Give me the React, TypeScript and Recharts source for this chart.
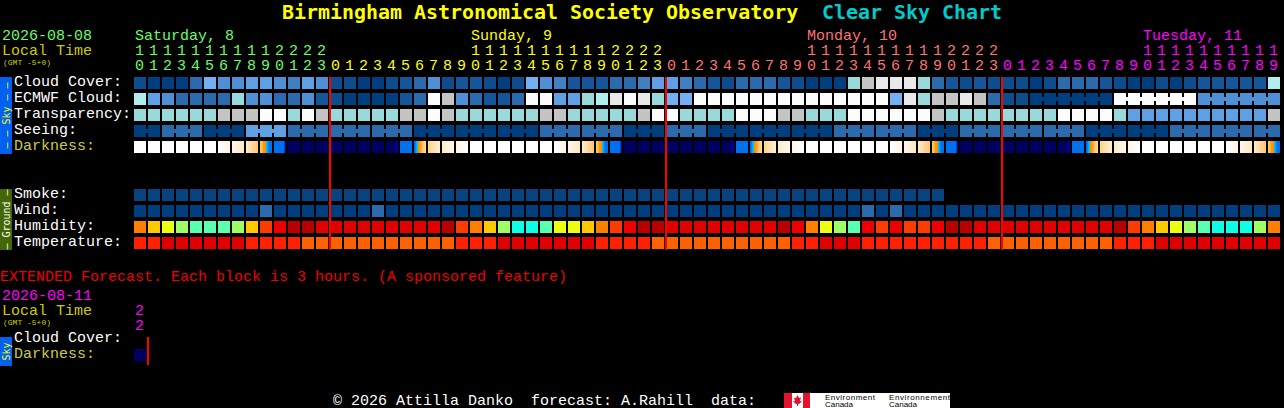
import React from "react";
import { ScatterChart, Scatter, XAxis, YAxis } from "recharts";

/* ------------------------------------------------------------------ */
/*  Data                                                               */
/* ------------------------------------------------------------------ */

const HOURS = [
  10, 11, 12, 13, 14, 15, 16, 17, 18, 19, 20, 21, 22, 23,
  0, 1, 2, 3, 4, 5, 6, 7, 8, 9, 10, 11, 12, 13, 14, 15, 16, 17, 18, 19, 20, 21, 22, 23,
  0, 1, 2, 3, 4, 5, 6, 7, 8, 9, 10, 11, 12, 13, 14, 15, 16, 17, 18, 19, 20, 21, 22, 23,
  0, 1, 2, 3, 4, 5, 6, 7, 8, 9, 10, 11, 12, 13, 14, 15, 16, 17, 18, 19,
];

const DAY_LABELS = ["Saturday, 8", "Sunday, 9", "Monday, 10", "Tuesday, 11"];
const DAY_LABEL_COLUMNS = [0, 24, 48, 72];
const DAY_FIRST_COLUMNS = [0, 14, 38, 62];
const MIDNIGHT_COLUMNS = [14, 38, 62];

const SKY_LABELS = ["Cloud Cover:", "ECMWF Cloud:", "Transparency:", "Seeing:", "Darkness:"];
const GROUND_LABELS = ["Smoke:", "Wind:", "Humidity:", "Temperature:"];

const CLOUD_COVER = [
  1, 0, 0, 0, 3, 7, 5, 5, 6, 6, 5, 4, 6, 5,
  1, 1, 0, 0, 1, 2, 3, 5, 1, 2, 2, 1, 0, 1, 7, 5, 4, 2, 2, 2, 3, 3, 4, 6,
  6, 4, 3, 2, 1, 3, 3, 3, 2, 1, 0, 0, 0, 8, 10, 11, 11, 11, 8, 3, 2, 1, 2, 1,
  1, 1, 0, 1, 3, 3, 3, 2, 1, 0, 0, 1, 0, 1, 2, 2, 2, 2, 2, 9,
];

const ECMWF_CLOUD = [
  9, 6, 5, 3, 3, 3, 3, 8, 5, 5, 3, 3, 5, 2,
  1, 0, 0, 0, 0, 2, 3, 12, 10, 5, 3, 2, 2, 3, 12, 12, 6, 6, 8, 9, 11, 12, 11, 8,
  7, 7, 12, 12, 12, 12, 12, 12, 12, 12, 12, 12, 12, 12, 12, 12, 7, 11, 8, 10, 10, 11, 10, 3,
  1, 1, 0, 0, 0, 0, 0, 0, 12, 12, 12, 12, 12, 12, 5, 5, 5, 5, 5, 5,
];

const TRANSPARENCY = [
  8, 8, 8, 8, 8, 8, 10, 10, 10, 12, 12, 8, 12, 10,
  8, 8, 8, 8, 8, 10, 10, 12, 10, 8, 8, 8, 8, 8, 8, 10, 10, 8, 8, 8, 8, 8, 10, 12,
  12, 8, 8, 8, 8, 12, 12, 12, 10, 10, 8, 8, 8, 12, 12, 12, 12, 12, 12, 10, 8, 8, 8, 8,
  8, 8, 8, 8, 12, 12, 12, 12, 8, 6, 6, 6, 6, 6, 6, 6, 6, 6, 6, 10,
];

const SEEING = [
  0, 0, 3, 3, 3, 0, 0, 0, 6, 6, 6, 3, 3, 3,
  3, 3, 3, 3, 3, 3, 0, 0, 0, 0, 0, 0, 0, 0, 0, 3, 3, 3, 3, 3, 3, 0, 0, 0,
  3, 3, 3, 0, 0, 0, 0, 0, 0, 0, 0, 0, 3, 3, 3, 3, 3, 3, 0, 0, 0, 3, 3, 3,
  3, 3, 3, 3, 3, 3, 0, 0, 0, 0, 0, 0, 3, 3, 3, 3, 3, 3, 3, 3,
];

const DARKNESS = [
  0, 0, 0, 0, 0, 0, 1, 2, 3, 4, 5, 6, 6, 6,
  6, 6, 6, 6, 7, 8, 9, 10, 11, 12, 0, 0, 0, 0, 0, 0, 1, 2, 3, 4, 5, 6, 6, 6,
  6, 6, 6, 6, 7, 8, 9, 10, 11, 12, 0, 0, 0, 0, 0, 0, 1, 2, 3, 4, 5, 6, 6, 6,
  6, 6, 6, 6, 7, 8, 9, 10, 11, 12, 0, 0, 0, 0, 0, 0, 1, 2, 3, 4,
];

const SMOKE = [
  0, 0, 0, 0, 0, 0, 0, 0, 0, 0, 0, 0, 0, 0,
  0, 0, 0, 0, 0, 0, 0, 0, 0, 0, 0, 0, 0, 0, 0, 0, 0, 0, 0, 0, 0, 0, 0, 0,
  0, 0, 0, 0, 0, 0, 0, 0, 0, 0, 0, 0, 0, 0, 0, 0, 0, 0, 0, 0,
];

const WIND = [
  0, 0, 0, 0, 0, 0, 0, 0, 0, 3, 0, 0, 0, 0,
  0, 0, 0, 3, 0, 0, 0, 0, 0, 0, 0, 0, 0, 0, 0, 0, 0, 0, 0, 0, 0, 0, 0, 0,
  0, 0, 0, 0, 0, 0, 0, 0, 0, 0, 0, 0, 0, 0, 3, 0, 3, 0, 0, 0, 0, 0, 0, 0,
  0, 0, 0, 0, 0, 0, 0, 0, 0, 0, 0, 0, 0, 0, 0, 0, 0, 0, 0, 0,
];

const HUMIDITY = [
  4, 5, 6, 7, 8, 8, 8, 7, 5, 3, 2, 0, 0, 1,
  1, 1, 1, 1, 1, 1, 1, 1, 0, 3, 4, 5, 7, 9, 9, 8, 6, 6, 5, 4, 3, 2, 0, 0,
  1, 1, 1, 1, 1, 1, 1, 1, 0, 2, 4, 6, 7, 8, 2, 3, 2, 3, 3, 2, 0, 0, 1, 1,
  1, 1, 1, 1, 1, 1, 1, 1, 0, 3, 4, 5, 6, 7, 8, 9, 9, 9, 7, 4,
];

const TEMPERATURE = [
  1, 1, 0, 0, 0, 0, 0, 0, 1, 1, 1, 1, 2, 2,
  2, 2, 2, 2, 2, 2, 2, 2, 2, 1, 1, 1, 0, 0, 0, 0, 0, 0, 0, 1, 1, 1, 1, 2,
  2, 2, 2, 2, 2, 2, 2, 2, 2, 1, 1, 0, 0, 0, 1, 1, 1, 1, 1, 1, 1, 1, 1, 2,
  2, 2, 2, 2, 2, 2, 2, 2, 1, 1, 1, 0, 0, 0, 0, 0, 0, 0, 0, 0,
];

const EXTENDED_DARKNESS = [6];

/* ------------------------------------------------------------------ */
/*  Palettes                                                           */
/* ------------------------------------------------------------------ */

const SKY_COLORS = [
  "#003f7f", "#0e4d8d", "#15559a", "#2b6bad", "#3f7fc2", "#4f8fd5", "#5f9fe3",
  "#72b0f2", "#99d9d9", "#b0eeee", "#c4c4c4", "#e9e9e9", "#fcfcfc",
];
const SMOKE_COLORS = ["#06437f"];
const HUMIDITY_COLORS = [
  "#b80000", "#e00000", "#ee0000", "#ff3c00", "#ff8000",
  "#ffc800", "#ecff13", "#9eff64", "#5bffb0", "#0dffe8",
];
const TEMPERATURE_COLORS = ["#e00000", "#ff2000", "#ff6000"];

// Darkness cells are not flat: each level is a list of thin vertical bands
const DARKNESS_BANDS = [
  ["#ffffff"],
  ["#fffefc", "#fffbf4", "#fff8ec", "#fff5e6"],
  ["#fff5e6", "#fff1dc", "#ffedd2", "#ffe8c8"],
  ["#ffe8c8", "#ffe0b4", "#ffd8a0", "#ffd08c", "#ffc878"],
  ["#ffc060", "#ffc060", "#ffb040", "#ff9800", "#ff9800", "#ff9000", "#00c0f0", "#00b0f0", "#0080f0", "#0078f0", "#0070f0", "#0070f0"],
  ["#0070f0", "#0070f0", "#0070f0", "#0070f0", "#0070f0", "#0070f0", "#0070f0", "#0070f0", "#0070f0", "#0070f0", "#0040c0", "#0000a0"],
  ["#000060"],
  ["#000060", "#000060", "#000060", "#000060", "#000060", "#000060", "#000060", "#000060", "#000060", "#000070", "#0000a0", "#0000a8"],
  ["#0070f0"],
  ["#0070f0", "#0080f0", "#00b0f0", "#00c0f0", "#ff9000", "#ff9800", "#ffa020", "#ffb040", "#ffc060", "#ffcc70", "#ffd080", "#ffd890"],
  ["#ffd890", "#ffdfa8", "#ffe5bc", "#ffeccc"],
  ["#ffeccc", "#fff0d8", "#fff3e0", "#fff6e8"],
  ["#fff6e8", "#fff9f0", "#fffcf8", "#ffffff"],
];

const DAY_COLORS = ["#66ff66", "#ffff00", "#ff7373", "#ff00ff"];
const YELLOW = "#cccc00";

/* ------------------------------------------------------------------ */
/*  Layout helpers                                                     */
/* ------------------------------------------------------------------ */

const TITLE_FONT = "'DejaVu Sans Mono', monospace";
const MONO = "'Liberation Mono', monospace";
const CHART_WIDTH = 1284;
const CHART_HEIGHT = 408;
const SKY_ROW = 5;
const GROUND_ROW = 12;
const EXT_ROW = 21;

type Cell = { x: number; y: number; fill?: string; bands?: string[]; link?: boolean };

function buildRow(
  values: number[],
  row: number,
  colors: string[],
  linked?: (col: number) => boolean,
): Cell[] {
  return values.map((v, i) => ({
    x: i + 0.5,
    y: row,
    fill: colors[v],
    link: linked ? linked(i) && i < values.length - 1 : false,
  }));
}

function buildDarkness(values: number[], row: number): Cell[] {
  return values.map((v, i) => ({ x: i + 0.5, y: row, bands: DARKNESS_BANDS[v] }));
}

// seeing comes in 3 hour blocks, the ECMWF tail in 6 hour blocks
const seeingLink = (col: number) => (col + 1 - 2) % 3 !== 0;
const ecmwfLink = (col: number) => col >= 64 && (col + 1 - 64) % 6 !== 0;

function dayIndex(col: number) {
  let idx = 0;
  DAY_FIRST_COLUMNS.forEach((first, i) => {
    if (col >= first) idx = i;
  });
  return idx;
}

/* ------------------------------------------------------------------ */
/*  Custom marks and ticks                                             */
/* ------------------------------------------------------------------ */

function BlockShape(props: any) {
  const { cx, cy, payload } = props;
  const left = cx - 7;
  const top = cy - 6;
  if (payload.bands) {
    const w = 12 / payload.bands.length;
    return (
      <g>
        {payload.bands.map((c: string, i: number) => (
          <rect key={i} x={left + i * w} y={top} width={w + 0.2} height={12} fill={c} shapeRendering="crispEdges" />
        ))}
      </g>
    );
  }
  return (
    <g shapeRendering="crispEdges">
      <rect x={left} y={top} width={12} height={12} fill={payload.fill} />
      {payload.link && <rect x={left + 12} y={top + 4} width={2} height={4} fill={payload.fill} />}
    </g>
  );
}

function HourTick(props: any) {
  const { payload } = props;
  const col = Math.floor(payload.value);
  const hour = HOURS[col];
  const x = 135 + col * 14;
  const fill = DAY_COLORS[dayIndex(col)];
  return (
    <g fontFamily={MONO} fontSize={15} fill={fill}>
      {hour >= 10 && (
        <text x={x} y={55}>
          {Math.floor(hour / 10)}
        </text>
      )}
      <text x={x} y={70}>
        {hour % 10}
      </text>
    </g>
  );
}

const ROW_LABELS: Record<number, string> = {};
SKY_LABELS.forEach((l, i) => (ROW_LABELS[SKY_ROW + i] = l));
GROUND_LABELS.forEach((l, i) => (ROW_LABELS[GROUND_ROW + i] = l));
ROW_LABELS[EXT_ROW] = SKY_LABELS[0];
ROW_LABELS[EXT_ROW + 1] = SKY_LABELS[4];

function RowTick(props: any) {
  const { y, payload } = props;
  const label = ROW_LABELS[payload.value];
  return (
    <text
      x={14}
      y={y + 3}
      fontFamily={MONO}
      fontSize={15}
      fill={label === "Darkness:" ? "#cccc44" : "#ffffff"}
    >
      {label}
    </text>
  );
}

function SideTab(props: { y: number; height: number; fill: string; color: string; label: string }) {
  const { y, height, fill, color, label } = props;
  const mid = y + height / 2;
  return (
    <g>
      <rect x={0} y={y} width={12} height={height} fill={fill} />
      <text
        x={6}
        y={mid}
        transform={`rotate(-90 6 ${mid})`}
        textAnchor="middle"
        dominantBaseline="central"
        fontFamily={TITLE_FONT}
        fontSize={10}
        fill={color}
        style={{ whiteSpace: "pre" }}
      >
        {label}
      </text>
    </g>
  );
}

/* ------------------------------------------------------------------ */
/*  Component                                                          */
/* ------------------------------------------------------------------ */

const ROW_TICKS = Object.keys(ROW_LABELS).map(Number);
const COLUMN_TICKS = HOURS.map((_, i) => i + 0.5);

const SERIES: { name: string; data: Cell[] }[] = [
  { name: "cloud", data: buildRow(CLOUD_COVER, SKY_ROW, SKY_COLORS) },
  { name: "ecmwf", data: buildRow(ECMWF_CLOUD, SKY_ROW + 1, SKY_COLORS, ecmwfLink) },
  { name: "transparency", data: buildRow(TRANSPARENCY, SKY_ROW + 2, SKY_COLORS) },
  { name: "seeing", data: buildRow(SEEING, SKY_ROW + 3, SKY_COLORS, seeingLink) },
  { name: "darkness", data: buildDarkness(DARKNESS, SKY_ROW + 4) },
  { name: "smoke", data: buildRow(SMOKE, GROUND_ROW, SMOKE_COLORS) },
  { name: "wind", data: buildRow(WIND, GROUND_ROW + 1, SKY_COLORS) },
  { name: "humidity", data: buildRow(HUMIDITY, GROUND_ROW + 2, HUMIDITY_COLORS) },
  { name: "temperature", data: buildRow(TEMPERATURE, GROUND_ROW + 3, TEMPERATURE_COLORS) },
  { name: "extended darkness", data: buildDarkness(EXTENDED_DARKNESS, EXT_ROW + 1) },
];

// midnight markers sit above the blocks, so they are drawn as later series
const NoDot = () => null;
const MIDNIGHT_LINES = MIDNIGHT_COLUMNS.map((c) => [
  { x: c, y: 4.625 },
  { x: c, y: 15.44 },
]);
const EXTENDED_LINE = [
  { x: 1, y: 20.875 },
  { x: 1, y: 22.625 },
];

export default function App() {
  return (
    <div
      style={{
        position: "fixed",
        left: 0,
        top: 0,
        width: CHART_WIDTH,
        height: CHART_HEIGHT,
        background: "#000000",
      }}
    >
      <ScatterChart
        width={CHART_WIDTH}
        height={CHART_HEIGHT}
        margin={{ top: 2, right: 2, bottom: 5, left: 0 }}
      >
        <XAxis
          type="number"
          dataKey="x"
          orientation="top"
          domain={[0, 82]}
          ticks={COLUMN_TICKS}
          interval={0}
          height={1}
          axisLine={false}
          tickLine={false}
          tick={(p: any) => <HourTick {...p} />}
        />
        <YAxis
          type="number"
          dataKey="y"
          domain={[0, 25]}
          reversed
          ticks={ROW_TICKS}
          interval={0}
          width={134}
          axisLine={false}
          tickLine={false}
          tick={(p: any) => <RowTick {...p} />}
        />

        {SERIES.map((s) => (
          <Scatter key={s.name} name={s.name} data={s.data} shape={BlockShape} isAnimationActive={false} />
        ))}

        {[...MIDNIGHT_LINES, EXTENDED_LINE].map((pts, i) => (
          <Scatter
            key={i}
            data={pts}
            line={{ stroke: "#ff0000", strokeWidth: 2 }}
            shape={NoDot}
            isAnimationActive={false}
          />
        ))}

        {/* title */}
        <text x={282} y={19} fontFamily={TITLE_FONT} fontWeight="bold" fontSize={19.95} fill="#ffff00">
          Birmingham Astronomical Society Observatory
        </text>
        <text x={822} y={19} fontFamily={TITLE_FONT} fontWeight="bold" fontSize={19.95} fill="#00cccc">
          Clear Sky Chart
        </text>

        {/* forecast header */}
        <text x={2} y={40} fontFamily={MONO} fontSize={15} fill={DAY_COLORS[0]}>
          2026-08-08
        </text>
        <text x={2} y={55} fontFamily={MONO} fontSize={15} fill={YELLOW}>
          Local Time
        </text>
        <text x={3} y={65} fontFamily={MONO} fontSize={8} fill={YELLOW}>
          (GMT -5+0)
        </text>
        {DAY_LABELS.map((d, i) => (
          <text key={d} x={135 + DAY_LABEL_COLUMNS[i] * 14} y={40} fontFamily={MONO} fontSize={15} fill={DAY_COLORS[i]}>
            {d}
          </text>
        ))}

        <SideTab y={77} height={77} fill="#0060f0" color="#ffff00" label="– – Sky – –" />
        <SideTab y={189} height={61} fill="#456605" color="#ffffff" label="– Ground –" />

        {/* extended block */}
        <text x={0} y={281} fontFamily={MONO} fontSize={15} fill="#ee0000">
          EXTENDED Forecast. Each block is 3 hours. (A sponsored feature)
        </text>
        <text x={2} y={300} fontFamily={MONO} fontSize={15} fill="#ff00ff">
          2026-08-11
        </text>
        <text x={2} y={315} fontFamily={MONO} fontSize={15} fill={YELLOW}>
          Local Time
        </text>
        <text x={3} y={325} fontFamily={MONO} fontSize={8} fill={YELLOW}>
          (GMT -5+0)
        </text>
        <text x={135} y={315} fontFamily={MONO} fontSize={15} fill="#ff00ff">
          2
        </text>
        <text x={135} y={330} fontFamily={MONO} fontSize={15} fill="#ff00ff">
          2
        </text>
        <SideTab y={337} height={29} fill="#0060f0" color="#ffff00" label="Sky" />

        {/* footer */}
        <text x={333} y={405} fontFamily={MONO} fontSize={15} fill="#ffffff" style={{ whiteSpace: "pre" }}>
          {"© 2026 Attilla Danko  forecast: A.Rahill  data:"}
        </text>
        <rect x={784} y={393} width={166} height={15} fill="#ffffff" />
        <rect x={784} y={393} width={8} height={15} fill="#e8112d" />
        <rect x={803} y={393} width={7} height={15} fill="#e8112d" />
        <polygon
          points="797.5,395 799,398 801,397.5 800,401 802,401.5 799,404 798,404 798,406 797,406 797,404 796,404 793,401.5 795,401 794,397.5 796,398"
          fill="#e8112d"
        />
        <g fontFamily="'Liberation Sans', sans-serif" fontSize={8} fill="#000000">
          <text x={825} y={400} textLength={50}>Environment</text>
          <text x={825} y={407} textLength={28}>Canada</text>
          <text x={889} y={400} textLength={61}>Environnement</text>
          <text x={889} y={407} textLength={28}>Canada</text>
        </g>
      </ScatterChart>
    </div>
  );
}
